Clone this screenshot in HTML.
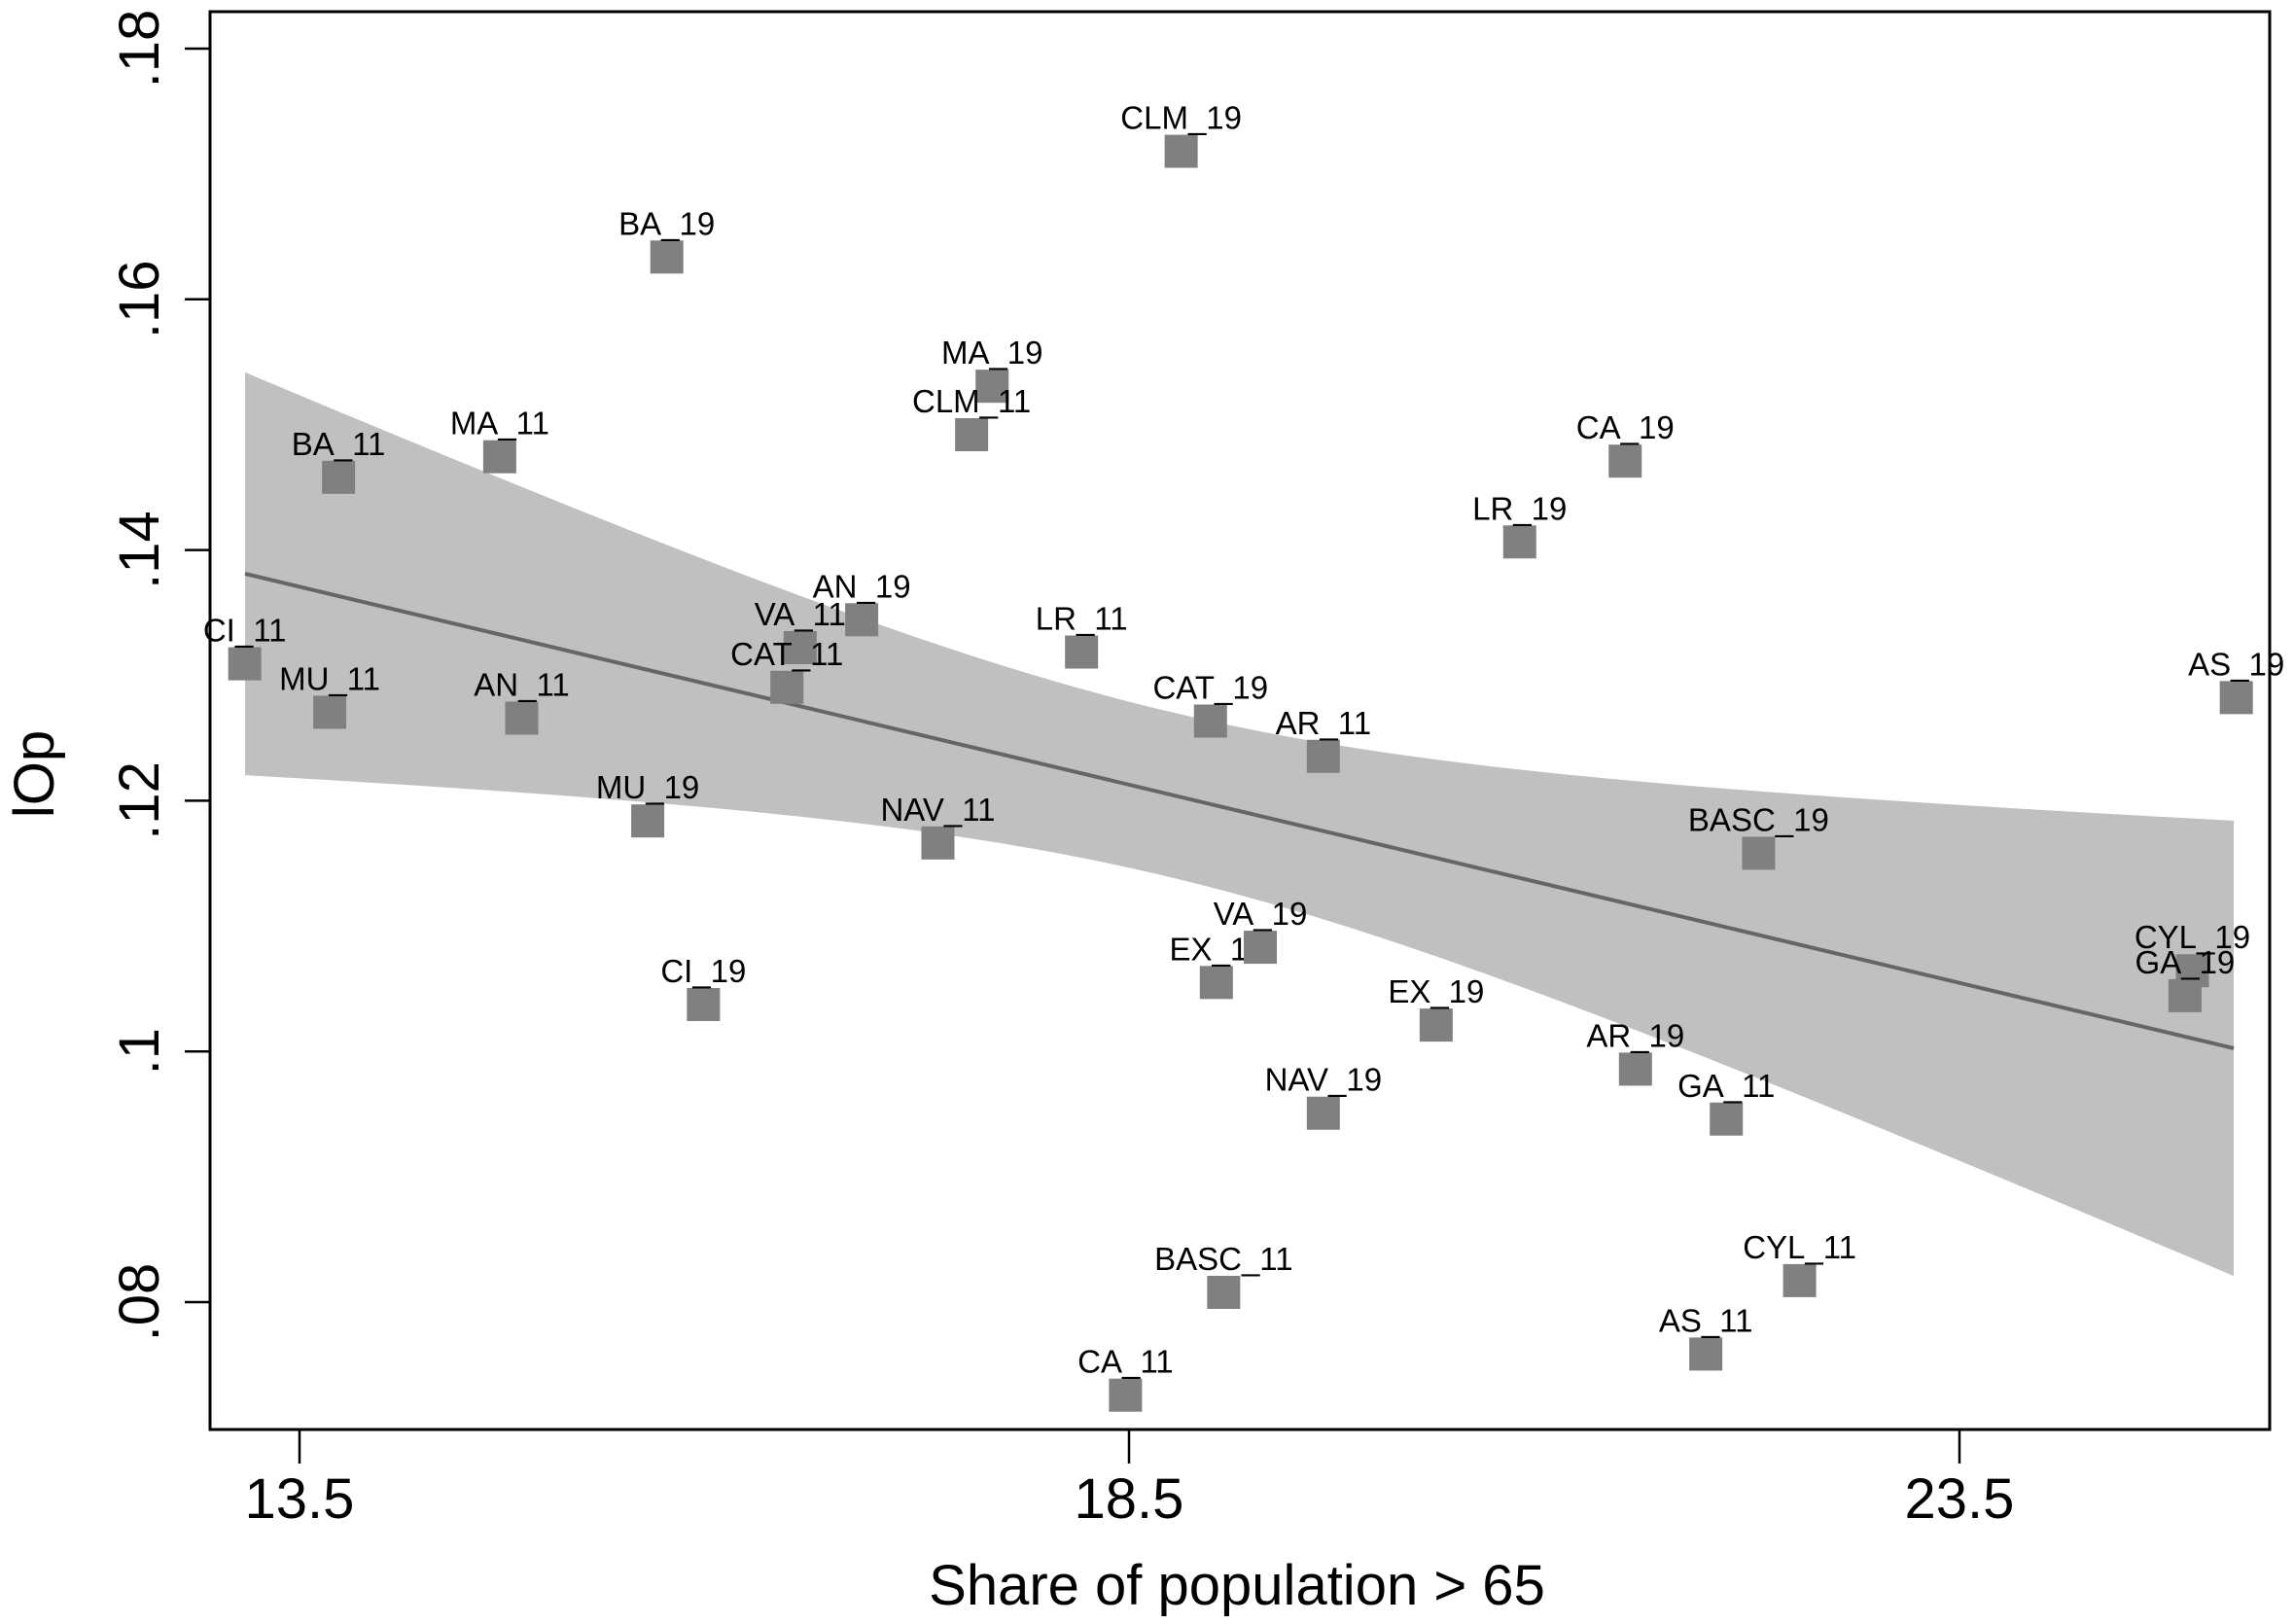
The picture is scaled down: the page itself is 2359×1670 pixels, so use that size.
<!DOCTYPE html>
<html><head><meta charset="utf-8"><style>
html,body{margin:0;padding:0;background:#fff}
svg{display:block}
text{font-family:"Liberation Sans",Arial,sans-serif;fill:#000}
.l{font-size:33px;text-anchor:middle}
</style></head><body>
<svg id="s" width="2359" height="1670" viewBox="0 0 2359 1670" xmlns="http://www.w3.org/2000/svg">
<rect width="2359" height="1670" fill="#fff"/>
<polygon id="band" fill="#c0c0c0" points=""/>
<line x1="252" y1="590" x2="2297" y2="1078" stroke="#666" stroke-width="4"/>
<g id="pts"></g>
<rect x="216" y="12" width="2118" height="1458" fill="none" stroke="#000" stroke-width="3"/>
<g stroke="#000" stroke-width="2.5">
<line x1="190" y1="50" x2="216" y2="50"/>
<line x1="190" y1="307.8" x2="216" y2="307.8"/>
<line x1="190" y1="565.6" x2="216" y2="565.6"/>
<line x1="190" y1="823.4" x2="216" y2="823.4"/>
<line x1="190" y1="1081.2" x2="216" y2="1081.2"/>
<line x1="190" y1="1339" x2="216" y2="1339"/>
<line x1="308" y1="1470" x2="308" y2="1505"/>
<line x1="1161" y1="1470" x2="1161" y2="1505"/>
<line x1="2015" y1="1470" x2="2015" y2="1505"/>
</g>
<g font-size="58" text-anchor="middle">
<text transform="translate(163,50) rotate(-90)">.18</text>
<text transform="translate(163,307.8) rotate(-90)">.16</text>
<text transform="translate(163,565.6) rotate(-90)">.14</text>
<text transform="translate(163,823.4) rotate(-90)">.12</text>
<text transform="translate(163,1081.2) rotate(-90)">.1</text>
<text transform="translate(163,1339) rotate(-90)">.08</text>
<text x="308" y="1561">13.5</text>
<text x="1161" y="1561">18.5</text>
<text x="2015" y="1561">23.5</text>
<text x="1272" y="1650">Share of population &gt; 65</text>
<text transform="translate(55,796) rotate(-90)">lOp</text>
</g>
</svg>
<script>
var sx=1.507,s=1.5102;
var P=[["CLM_19",806,103],["BA_19",455,175],["MA_19",677,263],["CLM_11",663,296],["BA_11",231,325],["MA_11",341,311],["CA_19",1109,314],["LR_19",1037,369],["AN_19",588,422],["VA_11",546,441],["CAT_11",537,468],["LR_11",738,444],["CI_11",167,452],["MU_11",225,485],["AN_11",356,489],["CAT_19",826,491],["AR_11",903,515],["AS_19",1526,475],["MU_19",442,559],["NAV_11",640,574],["BASC_19",1200,581],["EX_11",830,669],["VA_19",860,645],["CI_19",480,684],["EX_19",980,698],["CYL_19",1496,661],["GA_19",1491,678],["AR_19",1116,728],["NAV_19",903,758],["GA_11",1178,762],["BASC_11",835,880],["CYL_11",1228,872],["AS_11",1164,922],["CA_11",768,950]];
var ns="http://www.w3.org/2000/svg",g=document.getElementById("pts");
P.forEach(function(p){var x=p[1]*sx,y=p[2]*s;
var r=document.createElementNS(ns,"rect");r.setAttribute("x",x-17);r.setAttribute("y",y-17);r.setAttribute("width",34);r.setAttribute("height",34);r.setAttribute("fill","#808080");g.appendChild(r);
var t=document.createElementNS(ns,"text");t.setAttribute("x",x);t.setAttribute("y",y-23);t.setAttribute("class","l");t.textContent=p[0];g.appendChild(t);});
var up=[],lo=[];
for(var x=252;x<=2297.01;x+=15){var xx=Math.min(x,2297);var ly=590+488*(xx-252)/2045;var h=Math.sqrt(7225+0.0396*(xx-1201)*(xx-1201));up.push(xx+","+(ly-h));lo.unshift(xx+","+(ly+h));}
var xx=2297,ly=1078,h=Math.sqrt(7225+0.0396*(xx-1201)*(xx-1201));up.push(xx+","+(ly-h));lo.unshift(xx+","+(ly+h));
document.getElementById("band").setAttribute("points",up.concat(lo).join(" "));
</script>
</body></html>
